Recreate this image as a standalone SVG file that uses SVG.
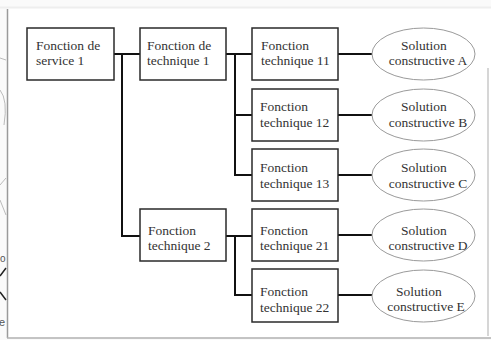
<svg xmlns="http://www.w3.org/2000/svg" width="491" height="340" viewBox="0 0 491 340">
<style>
.box{fill:#fff;stroke:#2a2a2a;stroke-width:1.5}
.ell{fill:#fff;stroke:#9a9a9a;stroke-width:1}
.t{font-family:"Liberation Serif","Times New Roman",serif;font-size:13.5px;fill:#333}
.c{text-anchor:middle}
.wire{fill:none;stroke:#111;stroke-width:2}
</style>
<rect x="0" y="0" width="491" height="340" fill="#fafafa"/>
<g id="backdrop">
<rect x="7" y="8" width="484" height="330" fill="#fff"/>
<line x1="7.5" y1="9" x2="7.5" y2="338" stroke="#9a9a9a" stroke-width="1.5"/>
<line x1="7" y1="338" x2="491" y2="338" stroke="#b0b0b0" stroke-width="1.5"/>
<line x1="0" y1="7.5" x2="491" y2="7.5" stroke="#eeeeee" stroke-width="2"/>
<line x1="488" y1="68" x2="488" y2="336" stroke="#c8c8c8" stroke-width="1.5"/>
<path d="M0 58 L6 60 M0 90 Q8 100 4 125 M0 185 L6 178 M0 200 L6 215" stroke="#aaa" fill="none" stroke-width="0.8"/>
<path d="M0 276 L6 268 M0 292 L6 300" stroke="#222" fill="none" stroke-width="1.5"/>
<text x="0" y="262" font-family="Liberation Sans,Arial,sans-serif" font-size="10" fill="#555">o</text>
<text x="-1" y="326" font-family="Liberation Sans,Arial,sans-serif" font-size="11" fill="#555">e</text>
</g>
<g id="connectors">
<path class="wire" d="M114 54 H140 M122 54 V236 H140"/>
<path class="wire" d="M226 54 H252 M235 54 V175 H252 M235 115 H252"/>
<path class="wire" d="M226 236 H252 M235 236 V295 H252"/>
<path class="wire" d="M338 54 H372 M338 115 H372 M338 175 H372 M338 235 H372 M338 295 H372"/>
</g>
<g id="fs1"><rect class="box" x="27" y="28" width="87" height="52"/><text class="t" x="36" y="50">Fonction de</text><text class="t" x="36" y="65">service 1</text></g>
<g id="ft1"><rect class="box" x="140" y="28" width="86" height="52"/><text class="t" x="147" y="50">Fonction de</text><text class="t" x="147" y="65">technique 1</text></g>
<g id="ft2"><rect class="box" x="140" y="209" width="86" height="52"/><text class="t" x="148" y="235">Fonction</text><text class="t" x="148" y="250">technique 2</text></g>
<g id="ft11"><rect class="box" x="252" y="28" width="86" height="52"/><text class="t" x="261" y="50">Fonction</text><text class="t" x="261" y="65">technique 11</text></g>
<g id="ft12"><rect class="box" x="252" y="89" width="86" height="52"/><text class="t" x="260" y="111">Fonction</text><text class="t" x="260" y="127">technique 12</text></g>
<g id="ft13"><rect class="box" x="252" y="149" width="86" height="52"/><text class="t" x="260" y="172">Fonction</text><text class="t" x="260" y="188">technique 13</text></g>
<g id="ft21"><rect class="box" x="252" y="209" width="86" height="52"/><text class="t" x="260" y="235">Fonction</text><text class="t" x="260" y="250">technique 21</text></g>
<g id="ft22"><rect class="box" x="252" y="269" width="86" height="53"/><text class="t" x="260" y="296">Fonction</text><text class="t" x="260" y="312">technique 22</text></g>
<g id="solA"><ellipse class="ell" cx="423.5" cy="54" rx="51.5" ry="26"/><text class="t c" x="424" y="50">Solution</text><text class="t c" x="428" y="65">constructive A</text></g>
<g id="solB"><ellipse class="ell" cx="423.5" cy="115" rx="51.5" ry="26"/><text class="t c" x="424" y="111">Solution</text><text class="t c" x="428" y="127">constructive B</text></g>
<g id="solC"><ellipse class="ell" cx="423.5" cy="175" rx="51.5" ry="26"/><text class="t c" x="424" y="172">Solution</text><text class="t c" x="428" y="188">constructive C</text></g>
<g id="solD"><ellipse class="ell" cx="423.5" cy="235" rx="51.5" ry="26"/><text class="t c" x="424" y="235">Solution</text><text class="t c" x="428" y="250">constructive D</text></g>
<g id="solE"><ellipse class="ell" cx="423.5" cy="296" rx="51.5" ry="26"/><text class="t c" x="419" y="296">Solution</text><text class="t c" x="426" y="311">constructive E</text></g>
</svg>
